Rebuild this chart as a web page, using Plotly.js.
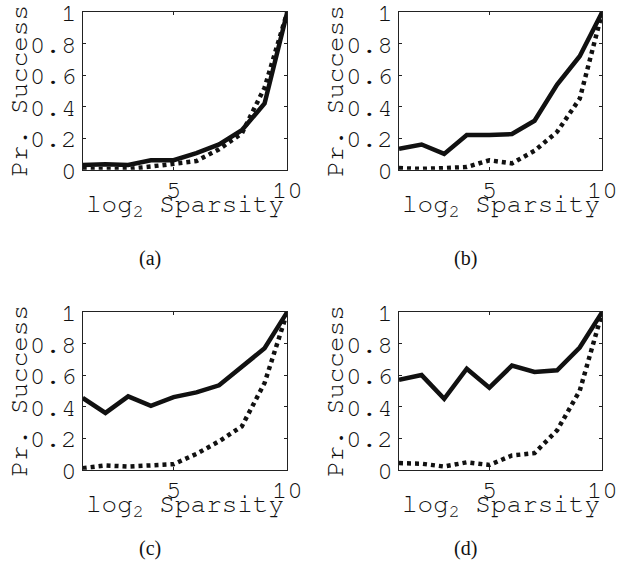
<!DOCTYPE html>
<html>
<head>
<meta charset="utf-8">
<script src="https://cdn.plot.ly/plotly-3.0.1.min.js"></script>
<style>
html,body{margin:0;padding:0;background:#fff;}
#chart{width:618px;height:571px;}
</style>
</head>
<body>
<div id="chart"></div>
<script>
// ---- data ----
const logSparsity = [1, 2, 3, 4, 5, 6, 7, 8, 9, 10];

const solidA = [0.03, 0.035, 0.03, 0.06, 0.06, 0.105, 0.16, 0.25, 0.42, 1.0];
const dottedA = [0.005, 0.005, 0.005, 0.02, 0.04, 0.055, 0.13, 0.23, 0.52, 1.0];

const solidB = [0.133, 0.16, 0.10, 0.22, 0.22, 0.226, 0.31, 0.54, 0.72, 1.0];
const dottedB = [0.01, 0.005, 0.01, 0.017, 0.06, 0.04, 0.12, 0.24, 0.45, 1.0];

const solidC = [0.455, 0.36, 0.465, 0.405, 0.46, 0.49, 0.535, 0.655, 0.77, 1.0];
const dottedC = [0.01, 0.027, 0.02, 0.025, 0.035, 0.10, 0.18, 0.275, 0.55, 1.0];

const solidD = [0.57, 0.6, 0.45, 0.64, 0.52, 0.66, 0.62, 0.63, 0.775, 1.0];
const dottedD = [0.042, 0.038, 0.02, 0.047, 0.03, 0.09, 0.105, 0.25, 0.50, 1.0];

const xTickVals = [5, 10];
const xTickText = ['5', '10'];
const yTickVals = [0, 0.2, 0.4, 0.6, 0.8, 1];
const yTickText = ['0', '0.2', '0.4', '0.6', '0.8', '1'];

const panelLabels = ['(a)', '(b)', '(c)', '(d)'];
const xTitle = 'log<sub>2</sub> Sparsity';
const yTitle = 'Pr. Success';

// ---- layout helpers ----
const W = 618, H = 571;
const px = v => v / W;
const py = v => 1 - v / H;

// panel boxes in pixels: [left, right, top, bottom]
const boxes = [
  [82.7, 287.3, 12, 169.7],
  [399, 602.3, 12, 169.7],
  [82.7, 287.3, 312, 469.7],
  [399, 602.3, 312, 469.7]
];

const series = [[solidA, dottedA], [solidB, dottedB], [solidC, dottedC], [solidD, dottedD]];
const mono = 'Nimbus Mono PS, Nimbus Mono L, FreeMono, Courier New, Courier, Liberation Mono, monospace';
const ink = '#111';

const data = [];
const layout = {
  width: W, height: H,
  margin: {l: 0, r: 0, t: 0, b: 0},
  paper_bgcolor: '#fff',
  plot_bgcolor: '#fff',
  showlegend: false,
  annotations: []
};

boxes.forEach((b, i) => {
  const n = i === 0 ? '' : String(i + 1);
  const xa = 'x' + n, ya = 'y' + n;
  data.push({
    x: logSparsity, y: series[i][0], xaxis: xa, yaxis: ya,
    type: 'scatter', mode: 'lines',
    line: {color: ink, width: 4.5}
  });
  data.push({
    x: logSparsity, y: series[i][1], xaxis: xa, yaxis: ya,
    type: 'scatter', mode: 'lines',
    line: {color: ink, width: 4.5, dash: '4px,4px'}
  });
  const common = {
    showline: true, mirror: 'ticks', linecolor: '#222', linewidth: 1,
    ticks: 'inside', ticklen: 3, tickwidth: 1, tickcolor: '#222',
    showgrid: false, zeroline: false, fixedrange: true,
    ticklabeloverflow: 'allow',
    tickfont: {family: mono, size: 26, color: ink}
  };
  layout['xaxis' + n] = Object.assign({}, common, {
    domain: [px(b[0]), px(b[1])], anchor: ya, range: [1, 10],
    tickmode: 'array', tickvals: xTickVals, ticktext: xTickText,
    ticklabelstandoff: -4
  });
  layout['yaxis' + n] = Object.assign({}, common, {
    domain: [py(b[3]), py(b[2])], anchor: xa, range: [0, 1],
    tickmode: 'array', tickvals: yTickVals, ticktext: yTickText
  });
  const cx = (b[0] + b[1]) / 2;
  const cy = (b[2] + b[3]) / 2;
  // x title
  layout.annotations.push({
    xref: 'paper', yref: 'paper', x: px(cx), y: py(b[3] + 36),
    xanchor: 'center', yanchor: 'middle', showarrow: false,
    text: xTitle, font: {family: mono, size: 26, color: ink}
  });
  // y title
  layout.annotations.push({
    xref: 'paper', yref: 'paper', x: px(b[0] - 64), y: py(cy),
    xanchor: 'center', yanchor: 'middle', showarrow: false, textangle: -90,
    text: yTitle, font: {family: mono, size: 26, color: ink}
  });
  // panel label
  layout.annotations.push({
    xref: 'paper', yref: 'paper', x: px(cx - 35), y: py(i < 2 ? 258 : 548),
    xanchor: 'center', yanchor: 'middle', showarrow: false,
    text: panelLabels[i], font: {family: 'Liberation Serif, Times New Roman, serif', size: 20, color: ink}
  });
});

Plotly.newPlot('chart', data, layout, {displayModeBar: false, staticPlot: true});
</script>
</body>
</html>
